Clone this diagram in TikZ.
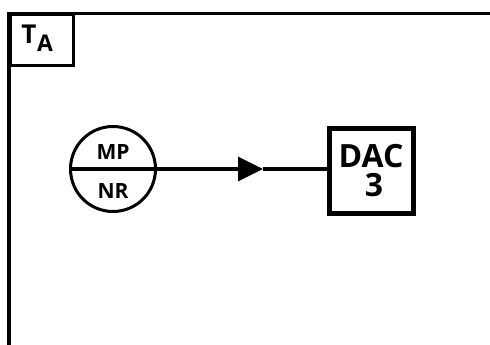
\documentclass[tikz,border=0pt]{standalone}
\usepackage{fontspec}
\setmainfont{Open Sans}
\usetikzlibrary{arrows.meta}
\begin{document}
\begin{tikzpicture}[x=1pt,y=-1pt,
  frameline/.style={line width=3.6pt},
  lbl/.style={inner sep=0pt},
  dacbox/.style={draw, line width=5pt, minimum width=84pt, minimum height=85pt, inner sep=0pt, align=center, font=\bfseries\fontsize{32}{34}\selectfont},
  ring/.style={draw, circle, line width=3pt, minimum size=85pt, inner sep=0pt},
  flow/.style={line width=3.2pt}]
\useasboundingbox (0,0) rectangle (490,345);
\fill[white] (0,0) rectangle (490,345);
% frame
\coordinate (fbl) at (9,345);
\coordinate (ftl) at (9,13.5);
\coordinate (ftr) at (490,13.5);
\draw[frameline] (fbl) -- (ftl) -- (ftr);
\node[draw, line width=3pt, minimum width=63pt, minimum height=51pt, anchor=north west, inner sep=0pt] (ta) at (9,13.5) {};
\node[lbl, font=\bfseries\fontsize{26}{26}\selectfont, anchor=south] (tt) at (29,44) {T};
\node[lbl, font=\bfseries\fontsize{23}{24}\selectfont, anchor=south] (tasub) at (45,52) {A};
% circle
\node[ring] (mp) at (113,169) {};
\draw[flow] (mp.west) -- (mp.east);
\node[lbl, font=\bfseries\fontsize{21}{22}\selectfont] (mptxt) at (113,152) {MP};
\node[lbl, font=\bfseries\fontsize{21}{22}\selectfont] (nrtxt) at (113,191) {NR};
% DAC box
\node[dacbox] (dac) at (371,170.5) {DAC\\[-5pt]\hspace*{6pt}3};
% connector
\coordinate (tip) at (263,169);
\draw[flow, -{Triangle[length=25pt, width=24pt]}] (mp.east) -- (tip);
\draw[flow] (tip) -- (dac.west |- tip);
\end{tikzpicture}
\end{document}
